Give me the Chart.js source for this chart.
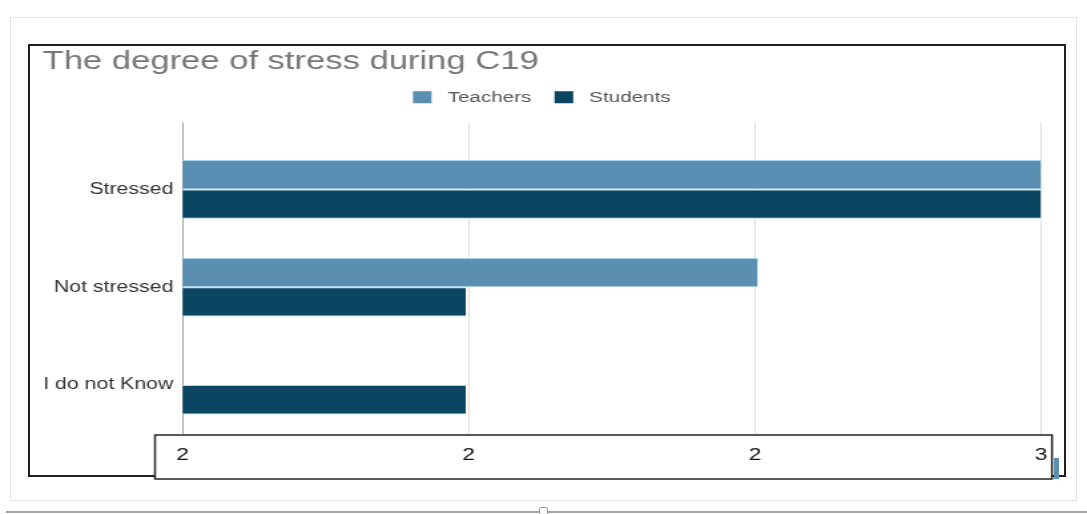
<!DOCTYPE html>
<html>
<head>
<meta charset="utf-8">
<title>The degree of stress during C19</title>
<script src="https://cdn.jsdelivr.net/npm/chart.js@4.4.6/dist/chart.umd.min.js"></script>
<style>
  html, body { margin: 0; padding: 0; background: #fff; }
  body { width: 1087px; height: 514px; position: relative; overflow: hidden; }
  .deco { position: absolute; box-sizing: border-box; }
  #outer { left: 10px; top: 17px; width: 1067px; height: 484px; border: 1px solid #e4e4e4; }
  #panel { left: 28px; top: 44px; width: 1038px; height: 433px; border: 2px solid #1f1f1f; }
  #wrap { position: absolute; left: 0; top: 0; width: 817px; height: 514px; transform-origin: 0 0; }
  #marker { left: 1054px; top: 458px; width: 5px; height: 21px; background: #5b90b0; }
  #rule { left: 6px; top: 511px; width: 1081px; height: 2px; background: #a3a3a3; }
  #handle { left: 539px; top: 507px; width: 9px; height: 8px; border: 1px solid #999; background: #fff; border-radius: 2px; }
</style>
</head>
<body>
<div id="outer" class="deco"></div>
<div id="panel" class="deco"></div>
<div id="wrap"><canvas id="chart" width="817" height="514"></canvas></div>
<div id="marker" class="deco"></div>
<div id="rule" class="deco"></div>
<div id="handle" class="deco"></div>
<script>
  const categories = ["Stressed", "Not stressed", "I do not Know"];
  const teachers = [3, 2.67, 2];
  const students = [3, 2.33, 2.33];
  const tickValues = [2, 2.333, 2.667, 3];
  const tickLabels = ["2", "2", "2", "3"];

  // the chart is laid out on a narrower canvas and stretched sideways
  const W = 817;
  const S = 1087 / W;
  document.getElementById("wrap").style.transform = "scaleX(" + S + ")";

  Chart.defaults.font.family = '"Liberation Sans", Arial, sans-serif';

  // white box that the value labels sit in, over the bottom of the plot
  const labelBox = {
    id: "labelBox",
    afterDatasetsDraw(chart) {
      const ctx = chart.ctx;
      const left = 155 / S, right = 1052 / S, top = 435, bottom = 479;
      ctx.save();
      ctx.fillStyle = "#fff";
      ctx.fillRect(left, top, right - left, bottom - top);
      ctx.strokeStyle = "#222";
      ctx.lineWidth = 1.5;
      ctx.strokeRect(left, top, right - left, bottom - top);
      ctx.restore();
    }
  };

  const setTicks = scale => { scale.ticks = tickValues.map(v => ({ value: v })); };
  const lineColor = ctx => (ctx.index === 0 ? "#a3a3a3" : "#dedede");

  new Chart(document.getElementById("chart"), {
    type: "bar",
    data: {
      labels: categories,
      datasets: [
        {
          label: "Teachers",
          data: teachers,
          backgroundColor: "#5a8fb1",
          borderColor: "#a9d5ec",
          borderWidth: { top: 1, bottom: 1, left: 0, right: 0 },
          borderSkipped: false
        },
        {
          label: "Students",
          data: students,
          backgroundColor: "#0a4562",
          borderColor: "#a9d5ec",
          borderWidth: { top: 1, bottom: 1, left: 0, right: 0 },
          borderSkipped: false
        }
      ]
    },
    options: {
      indexAxis: "y",
      responsive: false,
      animation: false,
      categoryPercentage: 0.6,
      barPercentage: 1,
      layout: { padding: { top: 51.2, left: 32, right: 34.6, bottom: 37.6 } },
      plugins: {
        tooltip: { enabled: false },
        title: {
          display: true,
          text: "The degree of stress during C19",
          align: "start",
          color: "#777",
          font: { size: 26, weight: "normal", lineHeight: 0.8 },
          padding: { top: 0, bottom: 0 }
        },
        legend: {
          position: "top",
          labels: {
            boxWidth: 14,
            boxHeight: 12,
            padding: 17.5,
            color: "#555",
            font: { size: 15.5 },
            generateLabels: chart =>
              Chart.defaults.plugins.legend.labels.generateLabels(chart).map(item => ({
                ...item,
                text: " " + item.text,
                lineWidth: 0
              }))
          }
        }
      },
      scales: {
        x: {
          type: "linear",
          position: "bottom",
          min: 2,
          max: 3,
          afterBuildTicks: setTicks,
          ticks: {
            z: 1,
            padding: 11,
            color: "#111",
            font: { size: 17 },
            maxRotation: 0,
            autoSkip: false,
            callback: (v, i) => tickLabels[i]
          },
          grid: { color: lineColor, drawTicks: false },
          border: { display: false }
        },
        x2: {
          type: "linear",
          position: "top",
          display: true,
          min: 2,
          max: 3,
          afterBuildTicks: setTicks,
          afterFit: scale => { scale.height = 25.5; },
          ticks: { display: false },
          grid: { drawOnChartArea: false, tickLength: 18, tickColor: lineColor },
          border: { display: false }
        },
        y: {
          afterFit: scale => { scale.width = 105.3; },
          ticks: { padding: 7, color: "#333", font: { size: 16 } },
          grid: { display: false, drawTicks: false },
          border: { display: false }
        }
      }
    },
    plugins: [labelBox]
  });
</script>
</body>
</html>
